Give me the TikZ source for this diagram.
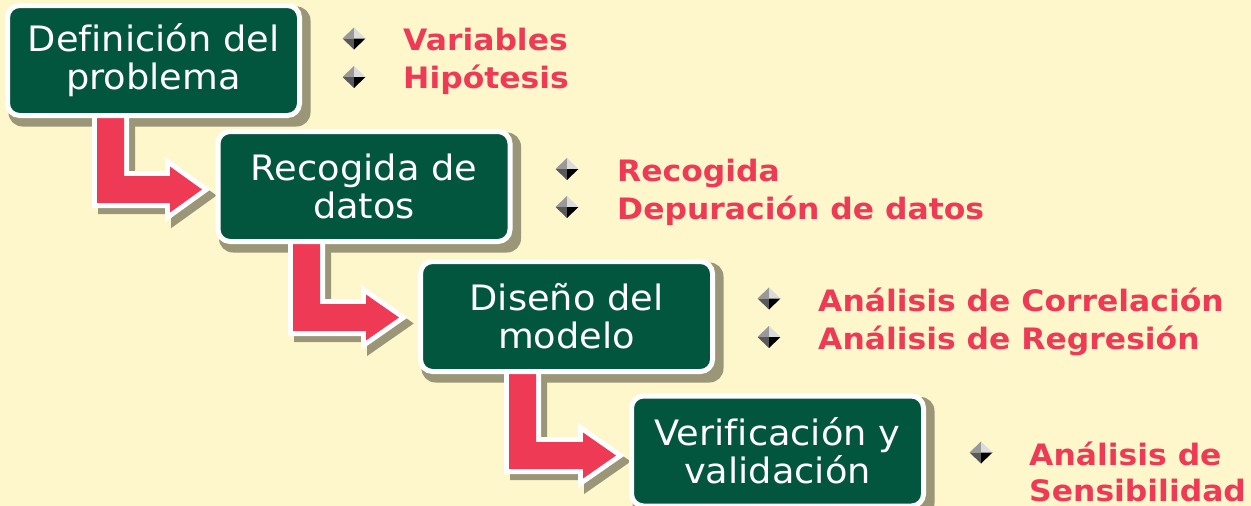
\documentclass[tikz,border=0pt]{standalone}
\usepackage{fontspec}
\newfontfamily\boxfont[FakeStretch=1.05,Ligatures=NoCommon]{DejaVu Sans}
\newfontfamily\itemfont[FakeStretch=1.065,Ligatures=NoCommon]{DejaVu Sans}
\definecolor{bgc}{RGB}{255,247,204}
\definecolor{boxgreen}{RGB}{2,86,62}
\definecolor{arrred}{RGB}{238,58,85}
\definecolor{shadowc}{RGB}{155,150,120}
\pgfdeclarelayer{bg}
\pgfdeclarelayer{mid}
\pgfsetlayers{bg,mid,main}
\tikzset{
  box/.style={draw=white, line width=5, fill=boxgreen, rounded corners=12,
    minimum width=292, minimum height=110, inner sep=0, text=white, align=center,
    font=\boxfont\fontsize{35}{38}\selectfont},
  item/.style={anchor=base west, inner sep=0, text=arrred,
    font=\itemfont\bfseries\fontsize{29.5}{36}\selectfont},
  arrowshadow/.style={fill=shadowc, draw=shadowc, line width=10, line join=miter, shift={(6,6)}},
  arrowbody/.style={fill=arrred, preaction={draw=white, line width=10, line join=miter}},
  boxshadow/.style={fill=shadowc, rounded corners=14},
  diam/.pic={
    \fill[black!40] (-11.5,0) -- (0,-11) -- (0,0) -- cycle;
    \fill[black!14] (0,-11) -- (11.5,0) -- (0,0) -- cycle;
    \fill[black!65] (-11.5,0) -- (0,11) -- (0,0) -- cycle;
    \fill[black] (0,11) -- (11.5,0) -- (0,0) -- cycle;
  }
}
% #1 left x, #2 top y, #3 bottom y, #4 head base x, #5 tip x
\newcommand\fatarrowpath[5]{(#1,#2) -- (#1+27,#2) -- (#1+27,#3-27) -- (#4,#3-27) -- (#4,#3-36.5) -- (#5,#3-13.5) -- (#4,#3+9.5) -- (#4,#3) -- (#1,#3) -- cycle}
\begin{document}
\begin{tikzpicture}[x=1pt,y=-1pt]
\useasboundingbox (0,0) rectangle (1251,506);
\clip (0,0) rectangle (1251,506);
\begin{pgfonlayer}{bg}
\fill[bgc] (0,0) rectangle (1251,506);
\end{pgfonlayer}

% boxes
\node[box] (b1) at (153.5,60.5) {Definición del\\problema};
\node[box] (b2) at (364,186.5) {Recogida de\\datos};
\node[box] (b3) at (566.5,316.5) {Diseño del\\modelo};
\node[box] (b4) at (777.5,451) {Verificación y\\validación};

\begin{pgfonlayer}{bg}
\foreach \b in {b1,b2,b3,b4}{
  \path[boxshadow] ([shift={(3.5,3.5)}]\b.north west) rectangle ([shift={(8.5,8.5)}]\b.south east);
}
\end{pgfonlayer}

\begin{pgfonlayer}{mid}
\path[arrowshadow] \fatarrowpath{97}{112}{203}{170}{202};
\path[arrowshadow] \fatarrowpath{293}{240}{331}{366}{399};
\path[arrowshadow] \fatarrowpath{509}{370}{469}{583}{616};
\path[arrowbody] \fatarrowpath{97}{112}{203}{170}{202};
\path[arrowbody] \fatarrowpath{293}{240}{331}{366}{399};
\path[arrowbody] \fatarrowpath{509}{370}{469}{583}{616};
\end{pgfonlayer}

% bullets
\pic at (354,38.5) {diam};
\pic at (354,77) {diam};
\pic at (567,169) {diam};
\pic at (567,207) {diam};
\pic at (769,298.5) {diam};
\pic at (769,337) {diam};
\pic at (981,452.5) {diam};

% items
\node[item] (t11) at (403,50) {Variables};
\node[item] (t12) at (403,88.5) {Hipótesis};
\node[item] (t21) at (617,181) {Recogida};
\node[item] (t22) at (617,219) {Depuración de datos};
\node[item] (t31) at (818,311) {Análisis de Correlación};
\node[item] (t32) at (818,349) {Análisis de Regresión};
\node[item] (t41) at (1029,465) {Análisis de};
\node[item] (t42) at (1029,501) {Sensibilidad};
\end{tikzpicture}
\end{document}
